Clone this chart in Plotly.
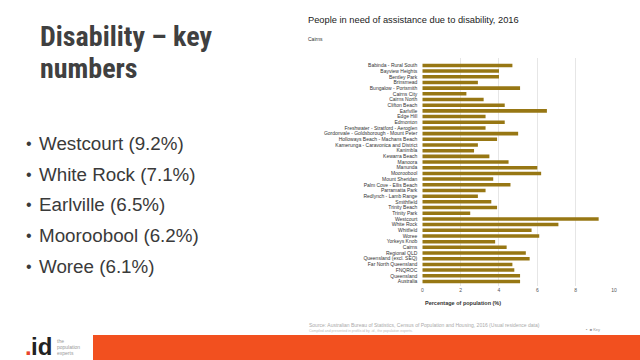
import plotly.graph_objects as go

categories = [
    "Babinda - Rural South", "Bayview Heights", "Bentley Park", "Brinsmead",
    "Bungalow - Portsmith", "Cairns City", "Cairns North", "Clifton Beach",
    "Earlville", "Edge Hill", "Edmonton", "Freshwater - Stratford - Aeroglen",
    "Gordonvale - Goldsborough - Mount Peter", "Holloways Beach - Machans Beach",
    "Kamerunga - Caravonica and District", "Kanimbla", "Kewarra Beach", "Manoora",
    "Manunda", "Mooroobool", "Mount Sheridan", "Palm Cove - Ellis Beach",
    "Parramatta Park", "Redlynch - Lamb Range", "Smithfield", "Trinity Beach",
    "Trinity Park", "Westcourt", "White Rock", "Whitfield", "Woree", "Yorkeys Knob",
    "Cairns", "Regional QLD", "Queensland (excl. SEQ)", "Far North Queensland",
    "FNQROC", "Queensland", "Australia",
]
values = [
    4.7, 4.0, 4.0, 2.9, 5.1, 2.3, 3.2, 4.3, 6.5, 3.3, 4.3, 3.3, 5.0, 3.9,
    2.9, 2.7, 3.5, 4.5, 6.0, 6.2, 3.7, 4.6, 3.3, 2.9, 3.6, 3.9, 2.5, 9.2,
    7.1, 5.7, 6.1, 3.8, 4.4, 5.4, 5.6, 4.7, 4.8, 5.1, 5.1,
]
x_ticks = [0, 2, 4, 6, 8, 10]
bullets = ["Westcourt (9.2%)", "White Rock (7.1%)", "Earlville (6.5%)",
           "Mooroobool (6.2%)", "Woree (6.1%)"]

W, H = 640, 360
fig = go.Figure(go.Bar(
    x=values, y=categories, orientation="h",
    marker=dict(color="#977714", line=dict(width=0)),
    width=0.62,
))

fig.update_layout(
    width=W, height=H, margin=dict(l=0, r=0, t=0, b=0),
    paper_bgcolor="white", plot_bgcolor="white", showlegend=False,
    xaxis=dict(domain=[422.3 / W, 614 / W], range=[0, 10], tickvals=x_ticks,
               showgrid=True, gridcolor="#e6e6e6", gridwidth=1, zeroline=False,
               showline=False, ticks="", automargin=False,
               tickfont=dict(size=5, color="#555", family="Liberation Sans")),
    yaxis=dict(domain=[1 - 286 / H, 1 - 58 / H], range=[38.8, -1.3],
               tickmode="array", tickvals=categories, ticktext=categories,
               showgrid=False, zeroline=False, showline=False, ticks="",
               automargin=False,
               tickfont=dict(size=5, color="#333", family="Liberation Sans"),
               ticklabelstandoff=4),
    bargap=0.35,
)

ann = []
def txt(x, y, s, size, color="#333", fam="Liberation Sans", xa="left", ya="middle"):
    ann.append(dict(x=x / W, y=1 - y / H, xref="paper", yref="paper", text=s,
                    showarrow=False, xanchor=xa, yanchor=ya,
                    font=dict(size=size, color=color, family=fam)))

# chart title & subtitle
txt(306, 20, "People in need of assistance due to disability, 2016", 9.3, "#222")
txt(306, 39, "Cairns", 5, "#333")
txt(422.5, 303, "<b>Percentage of population (%)</b>", 5.5, "#333")
txt(307, 325, "Source: Australian Bureau of Statistics, Census of Population and Housing, 2016 (Usual residence data)", 5, "#aaa")
txt(307, 331, "Compiled and presented in profile.id by .id , the population experts.", 3.5, "#bbb")
txt(584, 329, "▪  ■ Key", 4, "#999")

# left panel
title_font = "Roboto Condensed, DejaVu Sans Condensed, Roboto, sans-serif"
txt(38, 37, "<b>Disability – key</b>", 28, "#404040", title_font)
txt(38, 68, "<b>numbers</b>", 28, "#404040", title_font)
for i, b in enumerate(bullets):
    yy = 143.5 + i * 30.7
    txt(24, yy, "•", 16, "#3a3a3a")
    txt(37, yy, b, 18.8, "#3a3a3a")

# logo
txt(23, 346, "<b>.</b>", 24, "#e8452c", "Liberation Sans")
txt(29, 346, "<b>id</b>", 24, "#222", "Liberation Sans")
txt(55, 341, "the", 5, "#999")
txt(55, 347, "population", 5, "#999")
txt(55, 353, "experts", 5, "#999")
fig.update_layout(annotations=ann)

fig.add_shape(type="rect", xref="paper", yref="paper",
              x0=93 / W, x1=1, y0=0, y1=1 - 335 / H,
              fillcolor="#f2501f", line=dict(width=0), layer="above")

fig.write_html("out.html", config={"displayModeBar": False},
               post_script="document.body.style.margin='0px';")
